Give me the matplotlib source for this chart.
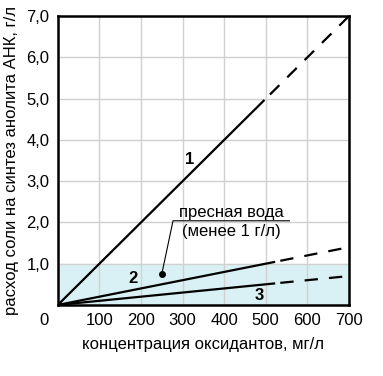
import matplotlib.pyplot as plt
from matplotlib.transforms import ScaledTranslation

plt.rcParams['font.family'] = ['Liberation Sans', 'DejaVu Sans']

# solid part and dashed extension of each line (x in mg/l, y in g/l)
x_solid = [0, 495]
x_solid_23 = [0, 520]
x_dash_1 = [510, 700]
x_dash_23 = [535, 700]

line1_solid = [0, 4.95]
line1_dash = [5.1, 7.0]
line2_solid = [0, 1.04]
line2_dash = [1.07, 1.4]
line3_solid = [0, 0.52]
line3_dash = [0.535, 0.7]

xticks = [0, 100, 200, 300, 400, 500, 600, 700]
yticks = [1, 2, 3, 4, 5, 6, 7]
ytick_labels = ['1,0', '2,0', '3,0', '4,0', '5,0', '6,0', '7,0']

fig = plt.figure(figsize=(3.83, 3.76), dpi=100)
ax = fig.add_axes([0.151, 0.189, 0.76, 0.768])

# fresh water band
ax.axhspan(0, 1.0, color='#d9f1f4', zorder=0)

ax.plot(x_solid, line1_solid, color='black', lw=1.6)
ax.plot(x_dash_1, line1_dash, color='black', lw=1.6, dashes=(6, 5))
ax.plot(x_solid_23, line2_solid, color='black', lw=1.6)
ax.plot(x_dash_23, line2_dash, color='black', lw=1.6, dashes=(6, 5))
ax.plot(x_solid_23, line3_solid, color='black', lw=1.6)
ax.plot(x_dash_23, line3_dash, color='black', lw=1.6, dashes=(6, 5))

ax.text(317, 3.53, '1', fontsize=12, fontweight='bold', ha='center', va='center')
ax.text(180, 0.63, '2', fontsize=12, fontweight='bold', ha='center', va='center')
ax.text(485, 0.24, '3', fontsize=12, fontweight='bold', ha='center', va='center')

# annotation
ax.plot([250], [0.75], 'o', color='black', ms=4)
ax.plot([250, 277, 557], [0.75, 2.04, 2.04], color='black', lw=0.8)
ax.text(418, 2.25, 'пресная вода', fontsize=12, ha='center', va='center')
ax.text(418, 1.79, '(менее 1 г/л)', fontsize=12, ha='center', va='center')

ax.set_xlim(0, 700)
ax.set_ylim(0, 7)
ax.set_xticks(xticks)
ax.set_yticks(yticks)
ax.set_yticklabels(ytick_labels)
ax.tick_params(length=0, labelsize=12, pad=6)
ax.grid(color='#d0d0d0', lw=1)
ax.set_axisbelow(True)
for s in ax.spines.values():
    s.set_linewidth(1.8)

# the zero sits left of the corner
lab0 = ax.get_xticklabels()[0]
lab0.set_transform(lab0.get_transform() + ScaledTranslation(-0.14, 0, fig.dpi_scale_trans))

ax.set_xlabel('концентрация оксидантов, мг/л', fontsize=12, labelpad=6)
ax.set_ylabel('расход соли на синтез анолита АНК, г/л', fontsize=12, labelpad=5)

fig.savefig('out.png', dpi=100)
